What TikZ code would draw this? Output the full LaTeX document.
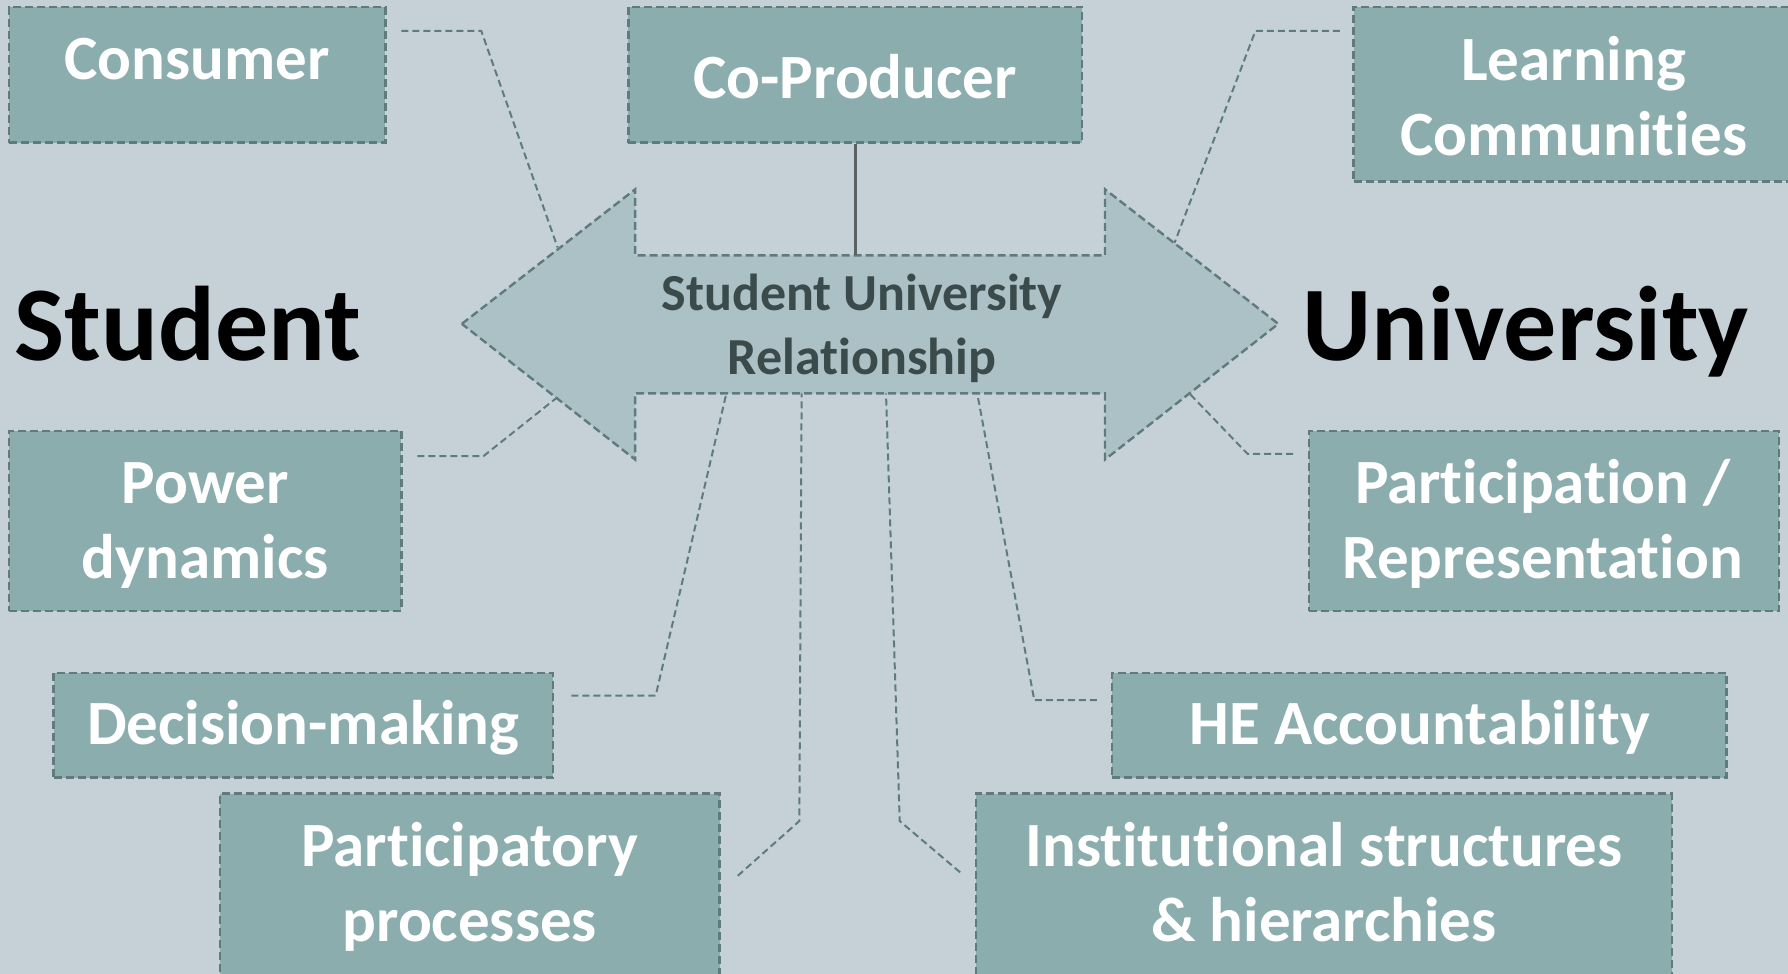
\documentclass[tikz,border=0pt]{standalone}
\usepackage{fontspec}
\setmainfont{Carlito}[Ligatures=NoCommon]
\usetikzlibrary{fit}
\definecolor{bgcol}{HTML}{C5D1D7}
\definecolor{boxcol}{HTML}{8BADAE}
\definecolor{arrowcol}{HTML}{ABC1C6}
\definecolor{bordercol}{HTML}{5F7B7E}
\definecolor{centertext}{HTML}{3B4A4B}
\definecolor{solidlink}{HTML}{5A6264}
\begin{document}
\begin{tikzpicture}[x=1.1403pt,y=-1.1403pt,
  box/.style={draw=bordercol, fill=boxcol, line width=2.4pt, dash pattern=on 8pt off 4pt, inner sep=0pt},
  boxtext/.style={text=white, font=\fontsize{63}{75}\selectfont\bfseries, align=center, anchor=base, inner sep=0pt},
  bigtext/.style={text=black, font=\fontsize{106}{120}\selectfont\bfseries, anchor=base, inner sep=0pt},
  midtext/.style={text=centertext, font=\fontsize{52}{64}\selectfont\bfseries, align=center, anchor=base, inner sep=0pt},
  link/.style={draw=bordercol, line width=2pt, dash pattern=on 7pt off 4pt},
  solidline/.style={draw=solidlink, line width=2.6pt}]
\useasboundingbox[fill=bgcol] (0,0) rectangle (1568,854);

% central double arrow
\draw[fill=arrowcol, draw=bordercol, line width=2.4pt, dash pattern=on 8pt off 4pt]
  (405,284) -- (557,166) -- (557,224) -- (969,224) -- (969,166) -- (1121,284)
  -- (969,403) -- (969,345) -- (557,345) -- (557,403) -- cycle;
\node[midtext] (rel) at (756,328) {Student University\\Relationship};

% named points on the arrow
\coordinate (aCons) at (489,217);
\coordinate (aPow)  at (488,349);
\coordinate (aLC)   at (1030,213);
\coordinate (aPart) at (1043,345);
\coordinate (aTop)  at (750,224);
\coordinate (aDec)  at (637,345);
\coordinate (aPP)   at (703,345);
\coordinate (aInst) at (777,345);
\coordinate (aHE)   at (857,345);

% side labels
\node[bigtext] (student) at (165,316) {Student};
\node[bigtext] (university) at (1338,316) {University};

% boxes
\node[box, fit={(8,6) (338,125)}] (consumer) {};
\node[boxtext] (consumerT) at (173,70) {Consumer};

\node[box, fit={(551,6) (949,125)}] (coprod) {};
\node[boxtext] (coprodT) at (750,86) {Co-Producer};

\node[box, fit={(1187,6) (1575,159)}] (lc) {};
\node[boxtext] (lcT) at (1380,136) {Learning\\Communities};

\node[box, fit={(8,378) (352,536)}] (power) {};
\node[boxtext] (powerT) at (180,507) {Power\\dynamics};

\node[box, fit={(1148,378) (1560,536)}] (part) {};
\node[boxtext] (partT) at (1353,507) {Participation /\\Representation};

\node[box, fit={(47,590) (485,682)}] (dec) {};
\node[boxtext] (decT) at (266,653) {Decision-making};

\node[box, fit={(975,590) (1514,682)}] (he) {};
\node[boxtext] (heT) at (1245,653) {HE Accountability};

\node[box, fit={(193,696) (631,860)}] (pp) {};
\node[boxtext] (ppT) at (412,826) {Participatory\\processes};

\node[box, fit={(856,696) (1466,860)}] (inst) {};
\node[boxtext] (instT) at (1161,826) {Institutional structures\\\& hierarchies};

% connector free ends
\coordinate (cCons) at (352,27);
\coordinate (cLC) at (1175,27);
\coordinate (cPow) at (366,400);
\coordinate (cPart) at (1134,398);
\coordinate (cDec) at (501,610);
\coordinate (cPP) at (647,768);
\coordinate (cInst) at (842,765);
\coordinate (cHE) at (962,614);

% connectors
\draw[link] (cCons) -- (422,27) -- (aCons);
\draw[link] (cLC) -- (1101,27) -- (aLC);
\draw[link] (cPow) -- (424,400) -- (aPow);
\draw[link] (cPart) -- (1094,398) -- (aPart);
\draw[link] (cDec) -- (575,610) -- (aDec);
\draw[link] (cPP) -- (701,720) -- (aPP);
\draw[link] (cInst) -- (789,720) -- (aInst);
\draw[link] (cHE) -- (907,614) -- (aHE);
\draw[solidline] (coprod.south) -- (aTop);
\end{tikzpicture}
\end{document}
